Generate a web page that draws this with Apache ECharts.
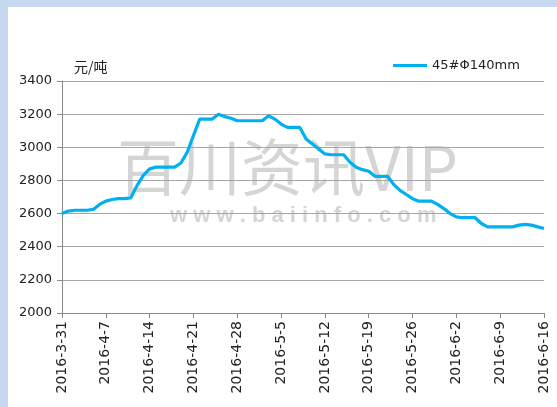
<!DOCTYPE html>
<html>
<head>
<meta charset="utf-8">
<script src="https://cdn.jsdelivr.net/npm/echarts@6/dist/echarts.min.js"></script>
<style>
  html, body { margin: 0; padding: 0; background: #fff; }
  #chart { width: 557px; height: 407px; }
</style>
</head>
<body>
<div id="chart"></div>
<script>
// dates: every day 2016-3-31 .. 2016-6-16
let dates = []
;(function () {
  let d = new Date(2016, 2, 31)
  for (let i = 0; i < 78; i++) {
    dates.push(d.getFullYear() + '-' + (d.getMonth() + 1) + '-' + d.getDate())
    d.setDate(d.getDate() + 1)
  }
})()

const seriesName = '45#Φ140mm'
// price, 元/吨
const prices = [
  2600, 2615, 2620, 2620, 2620, 2625, 2655, 2675, 2685, 2690,
  2690, 2695, 2770, 2830, 2870, 2880, 2880, 2880, 2880, 2905,
  2970, 3070, 3170, 3170, 3170, 3200, 3185, 3175, 3160, 3160,
  3160, 3160, 3160, 3190, 3170, 3140, 3120, 3120, 3120, 3050,
  3020, 2990, 2960, 2955, 2955, 2955, 2910, 2880, 2865, 2855,
  2825, 2825, 2825, 2775, 2740, 2715, 2690, 2675, 2675, 2675,
  2655, 2630, 2600, 2580, 2575, 2575, 2575, 2540, 2520, 2520,
  2520, 2520, 2520, 2530, 2535, 2530, 2520, 2510
]
const yTicks = { min: 2000, max: 3400, step: 200 }

let chart = echarts.init(document.getElementById('chart'))
let font = '"DejaVu Sans", Verdana, sans-serif'
let wm = 'rgba(150,150,150,0.4)'

chart.setOption({
  animation: false,
  backgroundColor: '#fff',
  graphic: [
    { type: 'rect', left: 0, top: 0, shape: { width: 557, height: 7 }, style: { fill: '#c6d9f0' }, z: -10 },
    { type: 'rect', left: 0, top: 0, shape: { width: 8, height: 407 }, style: { fill: '#c6d9f0' }, z: -10 },
    { type: 'text', left: 117, top: 136, z: -5,
      style: { text: '百川资讯VIP', fill: wm, font: '62px "Noto Sans CJK SC", sans-serif' } },
    { type: 'text', left: 170, top: 205, z: -5,
      style: { text: 'w w w . b a i i n f o . c o m', fill: wm, font: 'bold 22px "Liberation Sans", sans-serif' } }
  ],
  grid: { left: 62, right: 13, top: 81, bottom: 94 },
  legend: {
    left: 388, top: 54,
    icon: 'rect',
    itemWidth: 34, itemHeight: 3, itemGap: 4,
    textStyle: { fontFamily: font, fontSize: 13, color: '#222' },
    data: [seriesName]
  },
  xAxis: {
    type: 'category',
    data: dates,
    boundaryGap: false,
    axisLine: { lineStyle: { color: '#888' } },
    axisTick: { interval: 6, length: 5, lineStyle: { color: '#888' } },
    axisLabel: {
      interval: 6, rotate: 90, margin: 8,
      fontFamily: font, fontSize: 14, color: '#222'
    },
    splitLine: { show: false }
  },
  yAxis: {
    type: 'value',
    min: yTicks.min, max: yTicks.max, interval: yTicks.step,
    name: '元/吨',
    nameLocation: 'end',
    nameGap: 7,
    nameTextStyle: { fontFamily: '"Noto Sans CJK SC", sans-serif', fontSize: 14, color: '#222', align: 'left', padding: [0, 0, 0, 12] },
    axisLine: { show: true, lineStyle: { color: '#888' } },
    axisTick: { show: true, length: 5, lineStyle: { color: '#888' } },
    axisLabel: { fontFamily: font, fontSize: 13, color: '#222', margin: 10, formatter: function (v) { return String(v) } },
    splitLine: { lineStyle: { color: '#a6a6a6' } }
  },
  series: [{
    name: seriesName,
    type: 'line',
    data: prices,
    symbol: 'none',
    lineStyle: { color: '#00b0f0', width: 3.2 },
    itemStyle: { color: '#00b0f0' }
  }]
})
</script>
</body>
</html>
